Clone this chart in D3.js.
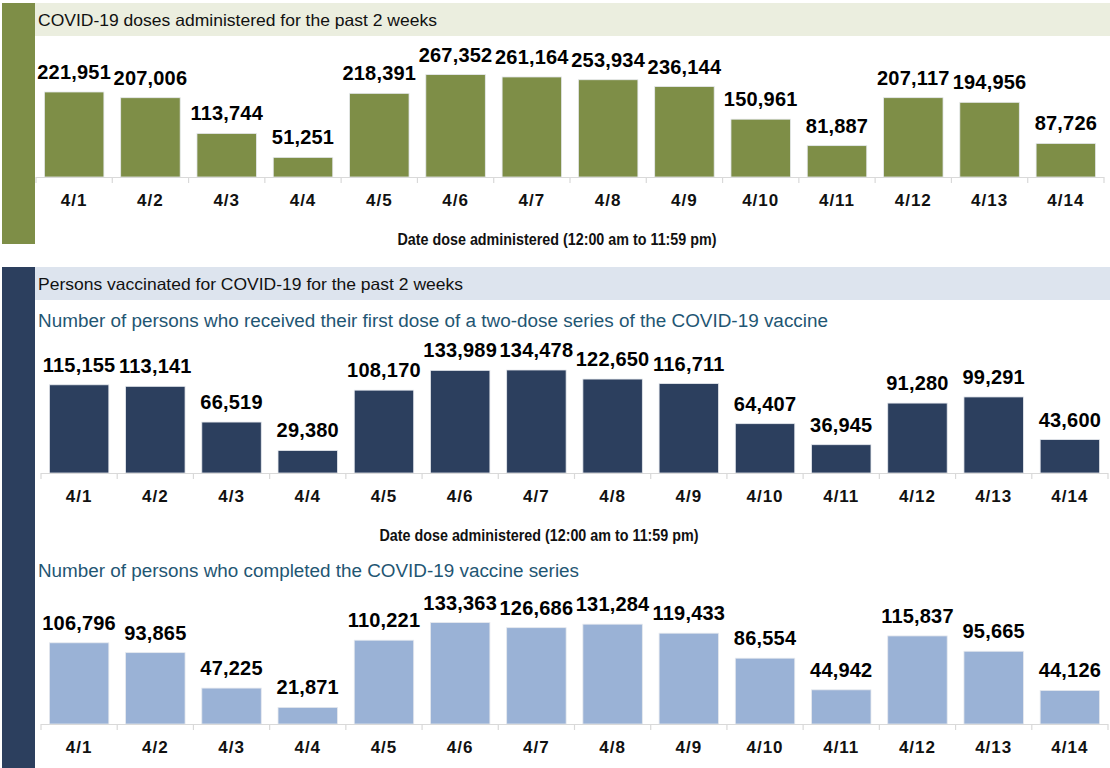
<!DOCTYPE html>
<html>
<head>
<meta charset="utf-8">
<script src="https://cdn.jsdelivr.net/npm/d3@7"></script>
<style>
  html, body { margin: 0; padding: 0; background: #ffffff; }
  svg { display: block; }
</style>
</head>
<body>
<svg id="chart" width="1110" height="768"></svg>
<script>
// ---------- data ----------
const dates = ["4/1","4/2","4/3","4/4","4/5","4/6","4/7","4/8","4/9","4/10","4/11","4/12","4/13","4/14"];
const dosesAdministered = [221951,207006,113744,51251,218391,267352,261164,253934,236144,150961,81887,207117,194956,87726];
const firstDose = [115155,113141,66519,29380,108170,133989,134478,122650,116711,64407,36945,91280,99291,43600];
const completedSeries = [106796,93865,47225,21871,110221,133363,126686,131284,119433,86554,44942,115837,95665,44126];

const section1Title = "COVID-19 doses administered for the past 2 weeks";
const section2Title = "Persons vaccinated for COVID-19 for the past 2 weeks";
const firstDoseTitle = "Number of persons who received their first dose of a two-dose series of the COVID-19 vaccine";
const completedTitle = "Number of persons who completed the COVID-19 vaccine series";
const axisTitle = "Date dose administered (12:00 am to 11:59 pm)";

// ---------- styles ----------
const GREEN = "#7e8e47", GREEN_BAND = "#ebeedf";
const NAVY = "#2c3f5e", BLUE_BAND = "#dde4ee";
const LIGHT_BLUE = "#9ab2d6";
const SUB_COLOR = "#1f5673";
const titleFont = "'Liberation Sans', Arial, sans-serif";
const labelFont = "'Liberation Sans', Arial, sans-serif";
const narrowFont = "'Liberation Sans Narrow', 'Liberation Sans', Arial, sans-serif";

const svg = d3.select("#chart");

function fitWidth(textSel, target) {
  const node = textSel.node();
  const w = node.getComputedTextLength();
  if (w > 0 && Math.abs(w - target) / target > 0.02) {
    textSel.attr("textLength", target).attr("lengthAdjust", "spacingAndGlyphs");
  }
}

// ---------- section frames ----------
svg.append("rect").attr("x", 2).attr("y", 3).attr("width", 33).attr("height", 241).attr("fill", GREEN);
svg.append("rect").attr("x", 35).attr("y", 3).attr("width", 1075).attr("height", 33).attr("fill", GREEN_BAND);
fitWidth(svg.append("text").attr("x", 38).attr("y", 26)
  .attr("font-family", titleFont).attr("font-size", 16.5).attr("fill", "#111")
  .text(section1Title), 399);

svg.append("rect").attr("x", 2).attr("y", 267).attr("width", 33).attr("height", 501).attr("fill", NAVY);
svg.append("rect").attr("x", 35).attr("y", 267).attr("width", 1075).attr("height", 33).attr("fill", BLUE_BAND);
fitWidth(svg.append("text").attr("x", 38).attr("y", 290)
  .attr("font-family", titleFont).attr("font-size", 16.5).attr("fill", "#111")
  .text(section2Title), 425);

fitWidth(svg.append("text").attr("x", 38).attr("y", 327)
  .attr("font-family", titleFont).attr("font-size", 18).attr("fill", SUB_COLOR)
  .text(firstDoseTitle), 790);

fitWidth(svg.append("text").attr("x", 38).attr("y", 577)
  .attr("font-family", titleFont).attr("font-size", 18).attr("fill", SUB_COLOR)
  .text(completedTitle), 541);

// ---------- bar panel ----------
function panel(values, opts) {
  const x = d3.scaleBand().domain(dates).range([opts.x0, opts.x1]).paddingInner(0.22).paddingOuter(0.11);
  const maxV = d3.max(values);
  const y = d3.scaleLinear().domain([0, maxV]).range([opts.base, opts.maxTop]);
  const g = svg.append("g");

  g.selectAll("rect.bar").data(values).join("rect")
    .attr("class", "bar")
    .attr("x", (d, i) => x(dates[i]))
    .attr("width", x.bandwidth())
    .attr("y", d => y(d))
    .attr("height", d => y(0) - y(d))
    .attr("fill", opts.color)
    .attr("stroke", "#e6e9ee").attr("stroke-width", 0.8);

  g.selectAll("text.val").data(values).join("text")
    .attr("class", "val")
    .attr("x", (d, i) => x(dates[i]) + x.bandwidth() / 2)
    .attr("y", d => y(d) - 13)
    .attr("text-anchor", "middle")
    .attr("font-family", labelFont).attr("font-weight", "bold")
    .attr("font-size", 20).attr("letter-spacing", 0.2).attr("fill", "#000")
    .text(d => d3.format(",")(d));

  // axis
  const axis = d3.axisBottom(x).tickSize(0).tickPadding(0);
  const ag = g.append("g").attr("transform", `translate(0,${opts.base})`).call(axis);
  ag.select(".domain").attr("stroke", "#d9d9d9").attr("stroke-width", 1.2)
    .attr("d", `M${opts.x0},0.5H${opts.x1}`);
  ag.selectAll(".tick text")
    .attr("y", 28.5).attr("dy", 0)
    .attr("font-family", labelFont).attr("font-weight", "bold")
    .attr("font-size", 17).attr("letter-spacing", 1).attr("fill", "#111");
  // boundary ticks
  const bounds = dates.map(d => x(d) - x.step() * x.paddingInner() / 2);
  bounds.push(opts.x1);
  ag.selectAll("line.bound").data(bounds).join("line")
    .attr("class", "bound")
    .attr("x1", d => d).attr("x2", d => d)
    .attr("y1", 0).attr("y2", 6)
    .attr("stroke", "#d9d9d9").attr("stroke-width", 1.2);

  if (opts.axisTitleY) {
    const t = g.append("text").attr("x", opts.axisTitleX).attr("y", opts.axisTitleY)
      .attr("text-anchor", "middle")
      .attr("font-family", narrowFont).attr("font-weight", "bold")
      .attr("font-size", 16).attr("fill", "#111")
      .text(axisTitle);
    fitWidth(t, 319);
  }
}

panel(dosesAdministered, { x0: 36, x1: 1104, base: 177, maxTop: 74.6, color: GREEN, axisTitleX: 557, axisTitleY: 245 });
panel(firstDose, { x0: 41, x1: 1108, base: 473, maxTop: 370, color: NAVY, axisTitleX: 539, axisTitleY: 541 });
panel(completedSeries, { x0: 41, x1: 1108, base: 724, maxTop: 622.6, color: LIGHT_BLUE });
</script>
</body>
</html>
